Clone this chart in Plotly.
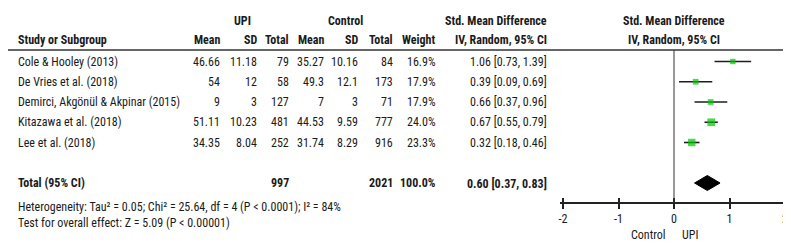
import plotly.graph_objects as go

# ---------------- data ----------------
studies = ["Cole & Hooley (2013)", "De Vries et al. (2018)",
           "Demirci, Akgönül & Akpinar (2015)", "Kitazawa et al. (2018)",
           "Lee et al. (2018)"]
upi_mean = [46.66, 54, 9, 51.11, 34.35]
upi_sd = [11.18, 12, 3, 10.23, 8.04]
upi_n = [79, 58, 127, 481, 252]
ctl_mean = [35.27, 49.3, 7, 44.53, 31.74]
ctl_sd = [10.16, 12.1, 3, 9.59, 8.29]
ctl_n = [84, 173, 71, 777, 916]
weight = [16.9, 17.9, 17.9, 24.0, 23.3]
smd = [1.06, 0.39, 0.66, 0.67, 0.32]
ci_lo = [0.73, 0.09, 0.37, 0.55, 0.18]
ci_hi = [1.39, 0.69, 0.96, 0.79, 0.46]

total_upi_n = 997
total_ctl_n = 2021
total_weight = 100.0
total_smd = 0.60
total_lo = 0.37
total_hi = 0.83

tick_vals = [-2, -1, 0, 1, 2]
tick_text = ["-2", "-1", "0", "1", "2"]

heterogeneity = "Heterogeneity: Tau² = 0.05; Chi² = 25.64, df = 4 (P < 0.0001); I² = 84%"
overall = "Test for overall effect: Z = 5.09 (P < 0.00001)"

# ---------------- layout constants ----------------
W, H = 791, 246
FONT = "Liberation Sans Narrow, Arial Narrow, Roboto Condensed, DejaVu Sans Condensed, Arial, sans-serif"
TXT = "#1a1a1a"
FS = 12
ROW_PX = 20.25
ROW0_PX = 53.5
def row_of(p):
    return (p - ROW0_PX) / ROW_PX

AXIS_PX = 195
axis_row = row_of(AXIS_PX)
header_line_row = row_of(42)
total_row = 6
rows = list(range(len(studies)))

def px(x):
    return x / W

def fmt(v):
    return f"{v:g}"

fig = go.Figure()

# CI lines
for i, r in enumerate(rows):
    fig.add_trace(go.Scatter(x=[ci_lo[i], ci_hi[i]], y=[r, r], mode="lines",
                             line=dict(color="#1e1e1e", width=1.6),
                             hoverinfo="skip", showlegend=False))
# study squares
fig.add_trace(go.Scatter(x=smd, y=rows, mode="markers",
                         marker=dict(symbol="square", color="#00c800",
                                     size=[w * 0.32 for w in weight],
                                     line=dict(width=0)),
                         hoverinfo="skip", showlegend=False))
# pooled diamond
dh = 0.37
fig.add_trace(go.Scatter(x=[total_lo, total_smd, total_hi, total_smd, total_lo],
                         y=[total_row, total_row - dh, total_row, total_row + dh, total_row],
                         mode="lines", fill="toself", fillcolor="#000000",
                         line=dict(color="#000000", width=1),
                         hoverinfo="skip", showlegend=False))

# invisible trace on xaxis2 to activate it
fig.add_trace(go.Scatter(x=[0], y=[0], xaxis="x2", mode="markers",
                         marker=dict(opacity=0), hoverinfo="skip", showlegend=False))

annotations = []
def add(text, x, row, anchor="right", bold=False, xref="paper", xshift=0):
    if bold:
        text = f"<b>{text}</b>"
    annotations.append(dict(text=text, x=x, y=row, xref=xref, yref="y",
                            xanchor=anchor, yanchor="middle", showarrow=False,
                            xshift=xshift,
                            font=dict(family=FONT, size=FS, color=TXT)))

# column right edges (px)
C_MEAN1, C_SD1, C_N1 = 214, 251, 283
C_MEAN2, C_SD2, C_N2 = 318, 352, 387
C_W, C_CI = 430, 541

h1 = row_of(13)
h2 = row_of(32)
add("UPI", px(234), h1, "center", True)
add("Control", px(337), h1, "center", True)
add("Std. Mean Difference", px(C_CI), h1, "right", True)
add("Std. Mean Difference", px(666), h1, "center", True)
add("Study or Subgroup", px(8), h2, "left", True)
add("Mean", px(C_MEAN1), h2, "right", True)
add("SD", px(C_SD1), h2, "right", True)
add("Total", px(C_N1), h2, "right", True)
add("Mean", px(C_MEAN2), h2, "right", True)
add("SD", px(C_SD2), h2, "right", True)
add("Total", px(C_N2), h2, "right", True)
add("Weight", px(C_W), h2, "right", True)
add("IV, Random, 95% CI", px(C_CI), h2, "right", True)
add("IV, Random, 95% CI", px(666), h2, "center", True)

for i, r in enumerate(rows):
    add(studies[i], px(8), r, "left")
    add(fmt(upi_mean[i]), px(C_MEAN1), r)
    add(fmt(upi_sd[i]), px(C_SD1), r)
    add(str(upi_n[i]), px(C_N1), r)
    add(fmt(ctl_mean[i]), px(C_MEAN2), r)
    add(fmt(ctl_sd[i]), px(C_SD2), r)
    add(str(ctl_n[i]), px(C_N2), r)
    add(f"{weight[i]:.1f}%", px(C_W), r)
    add(f"{smd[i]:.2f} [{ci_lo[i]:.2f}, {ci_hi[i]:.2f}]", px(C_CI), r)

add("Total (95% CI)", px(8), total_row, "left", True)
add(str(total_upi_n), px(C_N1), total_row, "right", True)
add(str(total_ctl_n), px(C_N2), total_row, "right", True)
add(f"{total_weight:.1f}%", px(C_W), total_row, "right", True)
add(f"{total_smd:.2f} [{total_lo:.2f}, {total_hi:.2f}]", px(C_CI), total_row, "right", True)

add(heterogeneity, px(8), row_of(199), "left")
add(overall, px(8), row_of(215), "left")

add("Control", 0, row_of(227), "right", xref="x", xshift=-6)
add("UPI", 0, row_of(227), "left", xref="x", xshift=6)

shapes = [
    dict(type="line", xref="paper", yref="y", x0=0, x1=1,
         y0=header_line_row, y1=header_line_row,
         line=dict(color="#333333", width=1.5)),
    dict(type="line", xref="x", yref="y", x0=0, x1=0,
         y0=header_line_row, y1=axis_row,
         line=dict(color="#333333", width=1)),
]

x_dom = [px(552), px(780)]
units_per_px = 4.0 / (777 - 555)
x_rng = [-2 - 3 * units_per_px, 2 + 3 * units_per_px]
axis_pos = 1 - AXIS_PX / H

fig.update_layout(
    width=W, height=H, autosize=False,
    margin=dict(l=0, r=0, t=0, b=0, pad=0),
    paper_bgcolor="white", plot_bgcolor="rgba(0,0,0,0)",
    showlegend=False,
    annotations=annotations, shapes=shapes,
    xaxis=dict(domain=x_dom, range=x_rng, anchor="free", position=axis_pos,
               showline=True, linecolor="#222222", linewidth=1.5,
               ticks="outside", ticklen=5, tickwidth=1.5, tickcolor="#222222",
               tickvals=tick_vals, ticktext=tick_text,
               tickfont=dict(family=FONT, size=FS, color=TXT),
               showgrid=False, zeroline=False, fixedrange=True),
    xaxis2=dict(domain=x_dom, range=x_rng, anchor="free", position=axis_pos,
                overlaying="x", showline=False,
                ticks="inside", ticklen=5, tickwidth=1.5, tickcolor="#222222",
                tickvals=tick_vals, showticklabels=False,
                showgrid=False, zeroline=False, fixedrange=True),
    yaxis=dict(domain=[0, 1], range=[row_of(H), row_of(0)], visible=False,
               fixedrange=True),
)

fig.write_html("out.html")
